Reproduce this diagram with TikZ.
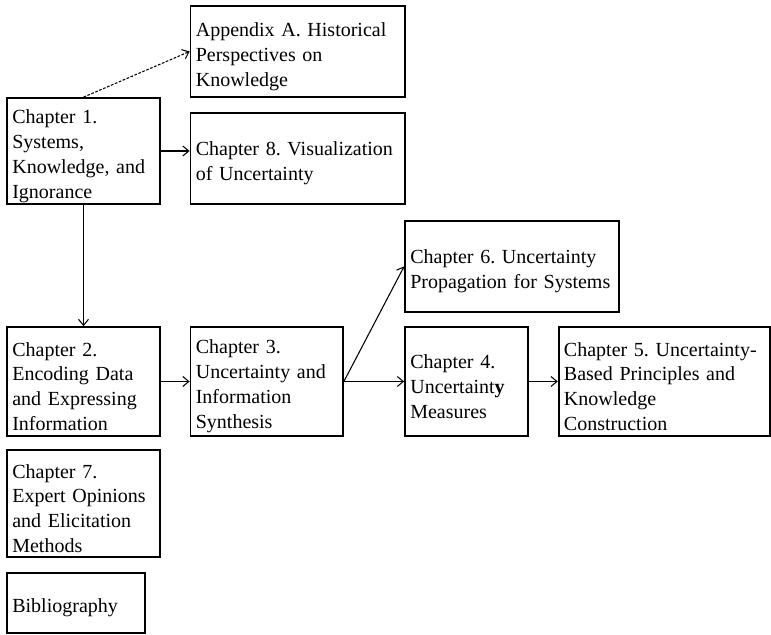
\documentclass[tikz,border=0pt]{standalone}
\usepackage{fontspec}
\setmainfont{Liberation Serif}
\usetikzlibrary{arrows.meta}
\begin{document}
\begin{tikzpicture}[x=0.75pt,y=-0.75pt,
  box/.style={draw,line width=1.3pt,rectangle,align=left,
    inner xsep=4pt,inner ysep=0pt,
    font={\fontsize{15pt}{18.7pt}\selectfont\frenchspacing\hyphenpenalty=10000\relax},
    execute at begin node={\rule{0pt}{18pt}}},
  % outer box size, given in pixel units
  boxsz/.style 2 args={text width=#1*0.75pt-8pt,minimum width=#1*0.75pt,minimum height=#2*0.75pt},
  link/.style={line width=0.8pt,-{Straight Barb[length=4.5pt,width=7.5pt]}},
  dlink/.style={link,dash pattern=on 2pt off 1.2pt}]
\useasboundingbox (0,0) rectangle (771,635);

\node[box,boxsz={214.5}{91}]  (appA) at (297.75,51.5)  {Appendix A. Historical\\Perspectives on\\Knowledge};
\node[box,boxsz={153}{106}]   (ch1)  at (83.5,151)     {Chapter 1.\\Systems,\\Knowledge, and\\Ignorance};
\node[box,boxsz={214.5}{91}]  (ch8)  at (297.75,158.5) {Chapter 8. Visualization\\of Uncertainty};
\node[box,boxsz={214}{91.3}]  (ch6)  at (512,266.4)    {Chapter 6. Uncertainty\\Propagation for Systems};
\node[box,boxsz={153}{109}]   (ch2)  at (83.5,381.5)   {Chapter 2.\\Encoding Data\\and Expressing\\Information};
\node[box,boxsz={152.5}{109}] (ch3)  at (266.75,381.5) {Chapter 3.\\Uncertainty and\\Information\\Synthesis};
\node[box,boxsz={123}{109}]   (ch4)  at (466.5,381.5)  {Chapter 4.\\Uncertaint\textbf{y}\\Measures};
\node[box,boxsz={211.5}{109}] (ch5)  at (664.4,381.5)  {Chapter 5. Uncertainty-\\Based Principles and\\Knowledge\\Construction};
\node[box,boxsz={153}{107}]   (ch7)  at (83.5,503.5)   {Chapter 7.\\Expert Opinions\\and Elicitation\\Methods};
\node[box,boxsz={138}{60}]    (bib)  at (76,603)       {Bibliography};

\draw[dlink] (ch1.north) -- (appA.west);
\draw[link] (ch1.east) -- (ch1.east -| ch8.west);
\draw[link] (ch1.south) -- (ch2.north);
\draw[link] (ch2.east) -- (ch3.west);
\draw[link] (ch3.east) -- (ch6.west);
\draw[link] (ch3.east) -- (ch4.west);
\draw[link] (ch4.east) -- (ch5.west);
\end{tikzpicture}
\end{document}
